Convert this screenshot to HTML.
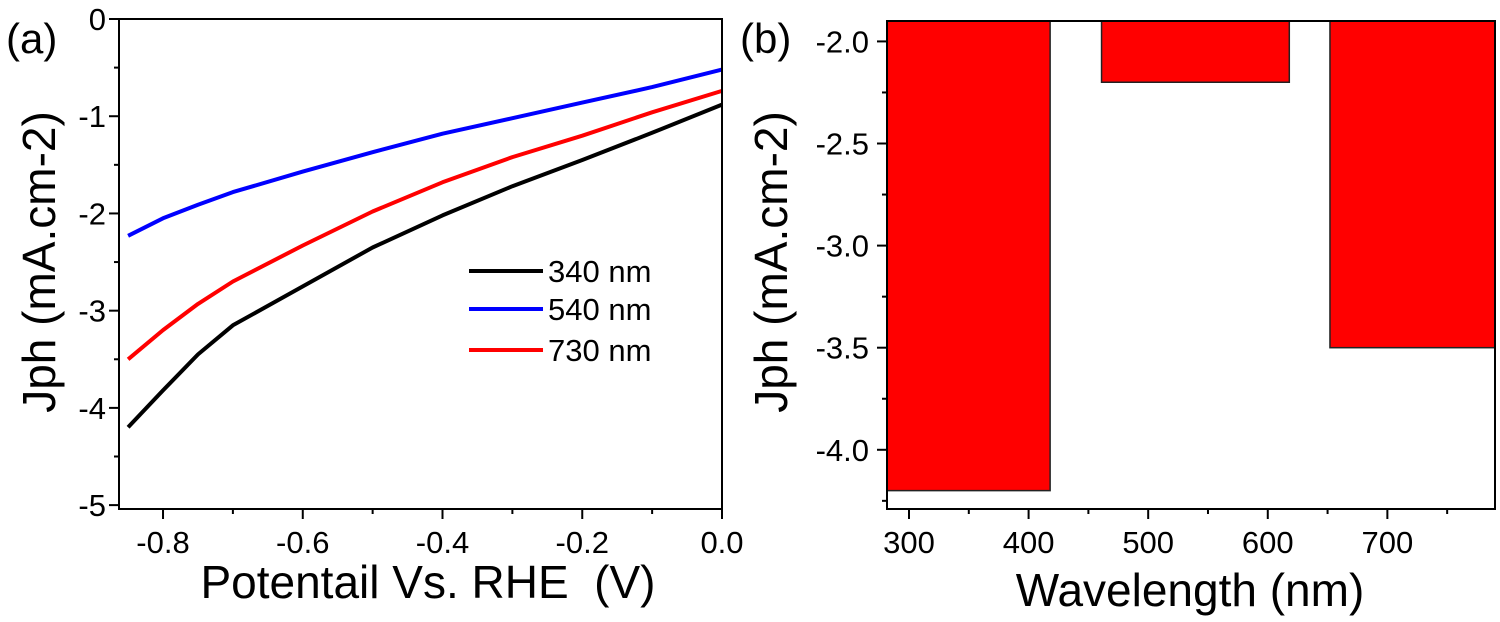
<!DOCTYPE html>
<html><head><meta charset="utf-8"><style>
html,body{margin:0;padding:0;background:#fff;}
svg{display:block;font-family:"Liberation Sans",Arial,sans-serif;}
text{white-space:pre;}
</style></head><body>
<svg id="fig" width="1500" height="622" viewBox="0 0 1500 622" xmlns="http://www.w3.org/2000/svg">
<g id="pa"></g>
<g id="pb"></g>
</svg>
<script>
// Panel (a) data
const potentials = [-0.85,-0.8,-0.75,-0.7,-0.6,-0.5,-0.4,-0.3,-0.2,-0.1,0];
const j340 = [-4.2,-3.82,-3.45,-3.15,-2.75,-2.35,-2.02,-1.72,-1.45,-1.17,-0.88];
const j540 = [-2.23,-2.05,-1.91,-1.78,-1.57,-1.37,-1.18,-1.02,-0.86,-0.7,-0.52];
const j730 = [-3.5,-3.2,-2.93,-2.7,-2.33,-1.98,-1.68,-1.42,-1.2,-0.96,-0.74];
const seriesNames = ["340 nm","540 nm","730 nm"];
const seriesColors = ["#000000","#0000ff","#ff0000"];
const aXTicks = [-0.8,-0.6,-0.4,-0.2,0.0];
const aXTickLabels = ["-0.8","-0.6","-0.4","-0.2","0.0"];
const aYTicks = [0,-1,-2,-3,-4,-5];
const aYTickLabels = ["0","-1","-2","-3","-4","-5"];
// Panel (b) data
const barStarts = [280,461,652];
const barEnds = [418,618,790];
const barValues = [-4.2,-2.2,-3.5];
const bXTicks = [300,400,500,600,700];
const bXTickLabels = ["300","400","500","600","700"];
const bYTicks = [-2.0,-2.5,-3.0,-3.5,-4.0];
const bYTickLabels = ["-2.0","-2.5","-3.0","-3.5","-4.0"];

const NS="http://www.w3.org/2000/svg";
function mk(tag,attrs,parent,text){const e=document.createElementNS(NS,tag);for(const k in attrs)e.setAttribute(k,attrs[k]);if(text!==undefined)e.textContent=text;parent.appendChild(e);return e;}
const TF=31, TT=46;

// ---- Panel A ----
const pa=document.getElementById('pa');
const aL=119,aR=722,aT=19,aB=509;
const axMin=-0.863,axMax=0,ayMin=-5.04,ayMax=0;
const ax=v=>aL+(v-axMin)/(axMax-axMin)*(aR-aL);
const ay=v=>aT+(ayMax-v)/(ayMax-ayMin)*(aB-aT);
[[j340,0],[j540,1],[j730,2]].forEach(([arr,i])=>{
  const d=potentials.map((p,k)=>(k?'L':'M')+ax(p).toFixed(1)+','+ay(arr[k]).toFixed(1)).join(' ');
  const p=mk('path',{d:d,fill:'none',stroke:seriesColors[i],'stroke-width':4,'stroke-linejoin':'round'},pa);
  
  
});
const fa=mk('rect',{x:aL,y:aT,width:aR-aL,height:aB-aT,fill:'none',stroke:'#000','stroke-width':2},pa);


aXTicks.forEach((t,i)=>{
  mk('line',{x1:ax(t),x2:ax(t),y1:aB,y2:aB+10,stroke:'#000','stroke-width':2},pa);
  const tx=mk('text',{x:ax(t),y:553,'font-size':TF,'text-anchor':'middle'},pa,aXTickLabels[i]);
  
  
  const m=t-0.1; if(m>axMin) mk('line',{x1:ax(m),x2:ax(m),y1:aB,y2:aB+5,stroke:'#000','stroke-width':2},pa);
});
aYTicks.forEach((t,i)=>{
  mk('line',{x1:aL-10,x2:aL,y1:ay(t),y2:ay(t),stroke:'#000','stroke-width':2},pa);
  const tx=mk('text',{x:aL-13,y:ay(t)+11,'font-size':TF,'text-anchor':'end'},pa,aYTickLabels[i]);
  
  
  const m=t-0.5; if(m>ayMin) mk('line',{x1:aL-5,x2:aL,y1:ay(m),y2:ay(m),stroke:'#000','stroke-width':2},pa);
});
const xta=mk('text',{x:428,y:598,'font-size':TT,'text-anchor':'middle'},pa,'Potentail Vs. RHE  (V)');


const yta=mk('text',{x:0,y:0,'font-size':TT,'text-anchor':'middle',transform:'translate(55,262) rotate(-90)'},pa,'Jph (mA.cm-2)');


const la=mk('text',{x:6,y:53,'font-size':42},pa,'(a)');


const legY=[271,309,350];
seriesNames.forEach((n,i)=>{
  const g=mk('g',{},pa);
  
  
  mk('line',{x1:469,x2:543,y1:legY[i],y2:legY[i],stroke:seriesColors[i],'stroke-width':4},g);
  mk('text',{x:548,y:legY[i]+11,'font-size':TF},g,n);
});

// ---- Panel B ----
const pb=document.getElementById('pb');
const bL=887,bR=1495,bT=21,bB=509;
const bxMin=281.6,bxMax=790,byMax=-1.9,byMin=-4.29;
const bx=v=>bL+(v-bxMin)/(bxMax-bxMin)*(bR-bL);
const by=v=>bT+(byMax-v)/(byMax-byMin)*(bB-bT);
barValues.forEach((v,i)=>{
  const x0=bx(Math.max(barStarts[i],bxMin)),x1=bx(barEnds[i]);
  const r=mk('rect',{x:x0,y:by(byMax),width:x1-x0,height:by(v)-by(byMax),fill:'#ff0000',stroke:'#222','stroke-width':1.5},pb);
  
  
});
const fb=mk('rect',{x:bL,y:bT,width:bR-bL,height:bB-bT,fill:'none',stroke:'#000','stroke-width':2},pb);


bXTicks.forEach((t,i)=>{
  mk('line',{x1:bx(t),x2:bx(t),y1:bB,y2:bB+10,stroke:'#000','stroke-width':2},pb);
  const tx=mk('text',{x:bx(t),y:553,'font-size':TF,'text-anchor':'middle'},pb,bXTickLabels[i]);
  
  
  const m=t+50; if(m<bxMax) mk('line',{x1:bx(m),x2:bx(m),y1:bB,y2:bB+5,stroke:'#000','stroke-width':2},pb);
});
bYTicks.forEach((t,i)=>{
  mk('line',{x1:bL-10,x2:bL,y1:by(t),y2:by(t),stroke:'#000','stroke-width':2},pb);
  const tx=mk('text',{x:bL-18,y:by(t)+11,'font-size':TF,'text-anchor':'end'},pb,bYTickLabels[i]);
  
  
  const m=t-0.25; if(m>byMin) mk('line',{x1:bL-5,x2:bL,y1:by(m),y2:by(m),stroke:'#000','stroke-width':2},pb);
});
const xtb=mk('text',{x:1190,y:606,'font-size':TT,'text-anchor':'middle'},pb,'Wavelength (nm)');


const ytb=mk('text',{x:0,y:0,'font-size':TT,'text-anchor':'middle',transform:'translate(787,262) rotate(-90)'},pb,'Jph (mA.cm-2)');


const lb=mk('text',{x:740,y:53,'font-size':42},pb,'(b)');


</script>
</body></html>
